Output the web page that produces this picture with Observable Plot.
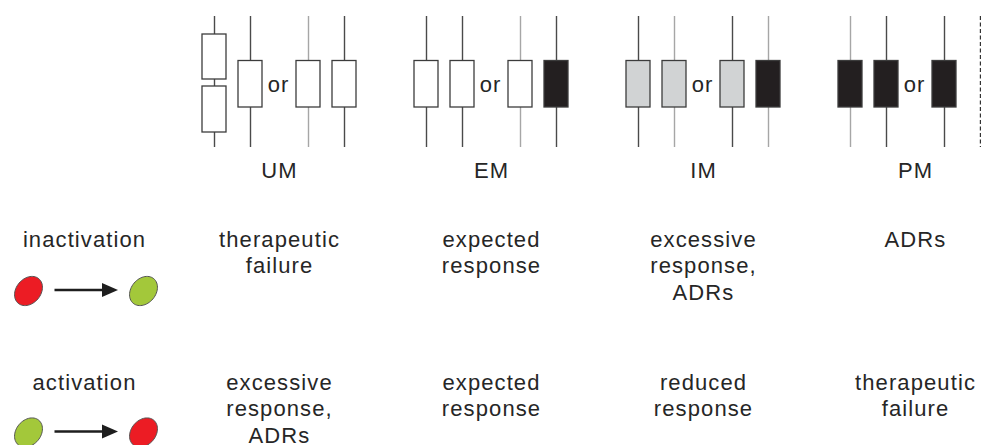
<!DOCTYPE html>
<html><head><meta charset="utf-8">
<script src="https://cdn.jsdelivr.net/npm/d3@7"></script>
<script src="https://cdn.jsdelivr.net/npm/@observablehq/plot@0.6"></script>
<style>body{margin:0;background:#fff}</style>
</head><body><div id="chart"></div>
<script>
// ---------- data ----------
const groups = ["UM", "EM", "IM", "PM"];
// box drawn in each of the four slots of a group
const boxTypes = [
  ["double", "white", "white", "white"],
  ["white", "white", "white", "black"],
  ["gray", "gray", "gray", "black"],
  ["black", "black", "black", "dashed"]
];
// tone of the vertical line through each slot
const lineTones = [
  ["dark", "dark", "light", "dark"],
  ["dark", "dark", "light", "dark"],
  ["dark", "light", "dark", "light"],
  ["light", "dark", "dark", "dark"]
];
const separatorLabel = "or";
const mechanisms = ["inactivation", "activation"];
const mechanismFrom = ["red", "green"];
const mechanismTo = ["green", "red"];
const inactivationOutcomes = ["therapeutic\nfailure", "expected\nresponse", "excessive\nresponse,\nADRs", "ADRs"];
const activationOutcomes = ["excessive\nresponse,\nADRs", "expected\nresponse", "reduced\nresponse", "therapeutic\nfailure"];

// ---------- layout ----------
const W = 981, H = 445;
const FS = 22, LH = 27 / 22;
const groupStart = 214, groupStep = 212;
const slotOffset = [0, 36, 94, 130];
const labelOffset = 65, orOffset = 64;
const boxHalf = 12;
const lineTop = 16, lineBottom = 147;
const singleBox = [[60.5, 107]];
const doubleBox = [[34, 79], [86, 132]];
const groupLabelBase = 177, orBase = 91;
const rowBase = [246, 389];
const mechX = 84, fromX = 28, toX = 143;
const stateY = [290.5, 432], arrowY = [289.5, 431];
const arrowX1 = 54, arrowTip = 117.5;

const fills = {white: "#ffffff", gray: "#d1d3d4", black: "#231f20"};
const tones = {dark: "#4a4a4a", light: "#a6a6a6"};
const stateColors = {red: "#ec1c24", green: "#a3c83a"};
const topAt = base => base - 0.71 * LH * FS; // anchor for lineAnchor "top"

const groupX = gi => groupStart + gi * groupStep;
const slots = groups.flatMap((g, gi) => boxTypes[gi].map((type, si) => ({
  group: g, type, tone: lineTones[gi][si], cx: groupX(gi) + slotOffset[si]
})));
const boxes = slots.filter(d => d.type !== "dashed").flatMap(d =>
  (d.type === "double" ? doubleBox : singleBox).map(([t, b]) => ({...d, top: t, bottom: b,
    fill: fills[d.type === "double" ? "white" : d.type]})));
const cols = groups.map((g, gi) => ({group: g, cx: groupX(gi), inact: inactivationOutcomes[gi], act: activationOutcomes[gi]}));
const mech = mechanisms.map((m, i) => ({name: m, from: mechanismFrom[i], to: mechanismTo[i], row: i}));

const ellipse = {
  draw(ctx, size) {
    const r = Math.sqrt(size / Math.PI), a = r * 1.12, b = r * 0.86, th = -50 * Math.PI / 180;
    const n = 60;
    for (let i = 0; i <= n; i++) {
      const t = 2 * Math.PI * i / n, x = a * Math.cos(t), y = b * Math.sin(t);
      const X = x * Math.cos(th) - y * Math.sin(th), Y = x * Math.sin(th) + y * Math.cos(th);
      i ? ctx.lineTo(X, Y) : ctx.moveTo(X, Y);
    }
    ctx.closePath();
  }
};
const head = {
  draw(ctx) { ctx.moveTo(8, 0); ctx.lineTo(-8, -7); ctx.lineTo(-8, 7); ctx.closePath(); }
};

const chart = Plot.plot({
  width: W, height: H,
  marginTop: 0, marginRight: 0, marginBottom: 0, marginLeft: 0,
  x: {domain: [0, W], range: [0, W], axis: null},
  y: {domain: [0, H], range: [0, H], axis: null},
  style: {fontFamily: "'Liberation Sans', Arial, Helvetica, sans-serif", fontSize: FS + "px",
    letterSpacing: "1.1px", color: "#262626", background: "#fff"},
  marks: [
    Plot.ruleX(slots.filter(d => d.type !== "dashed"), {x: "cx", y1: () => lineTop, y2: () => lineBottom,
      stroke: d => tones[d.tone], strokeWidth: 1.4}),
    Plot.ruleX(slots.filter(d => d.type === "dashed"), {x: "cx", y1: () => lineTop, y2: () => lineBottom,
      stroke: "#333", strokeWidth: 1.4, strokeDasharray: "4,2.5"}),
    Plot.rect(boxes, {x1: d => d.cx - boxHalf, x2: d => d.cx + boxHalf, y1: "top", y2: "bottom",
      fill: d => d.fill, stroke: "#3c3c3c", strokeWidth: 1.3}),
    Plot.text(cols, {x: d => d.cx + orOffset, y: () => topAt(orBase), text: () => separatorLabel, lineAnchor: "top", lineHeight: LH}),
    Plot.text(cols, {x: d => d.cx + labelOffset, y: () => topAt(groupLabelBase), text: "group", lineAnchor: "top", lineHeight: LH}),
    Plot.text(cols, {x: d => d.cx + labelOffset, y: () => topAt(rowBase[0]), text: "inact", lineAnchor: "top", lineHeight: LH}),
    Plot.text(cols, {x: d => d.cx + labelOffset, y: () => topAt(rowBase[1]), text: "act", lineAnchor: "top", lineHeight: LH}),
    Plot.text(mech, {x: () => mechX, y: d => topAt(rowBase[d.row] + 0.7), text: "name", lineAnchor: "top", lineHeight: LH}),
    Plot.link(mech, {x1: () => arrowX1, x2: () => arrowTip - 12, y1: d => arrowY[d.row], y2: d => arrowY[d.row],
      stroke: "#1e1e1e", strokeWidth: 2.6}),
    Plot.dot(mech, {x: () => arrowTip - 8, y: d => arrowY[d.row], symbol: head, r: 8, fill: "#1e1e1e", stroke: "none"}),
    Plot.dot(mech, {x: () => fromX, y: d => stateY[d.row], symbol: ellipse, r: 14.3,
      fill: d => stateColors[d.from], stroke: "#555", strokeWidth: 1}),
    Plot.dot(mech, {x: () => toX, y: d => stateY[d.row], symbol: ellipse, r: 14.3,
      fill: d => stateColors[d.to], stroke: "#555", strokeWidth: 1})
  ]
});
document.getElementById("chart").appendChild(chart);
</script>
</body></html>
